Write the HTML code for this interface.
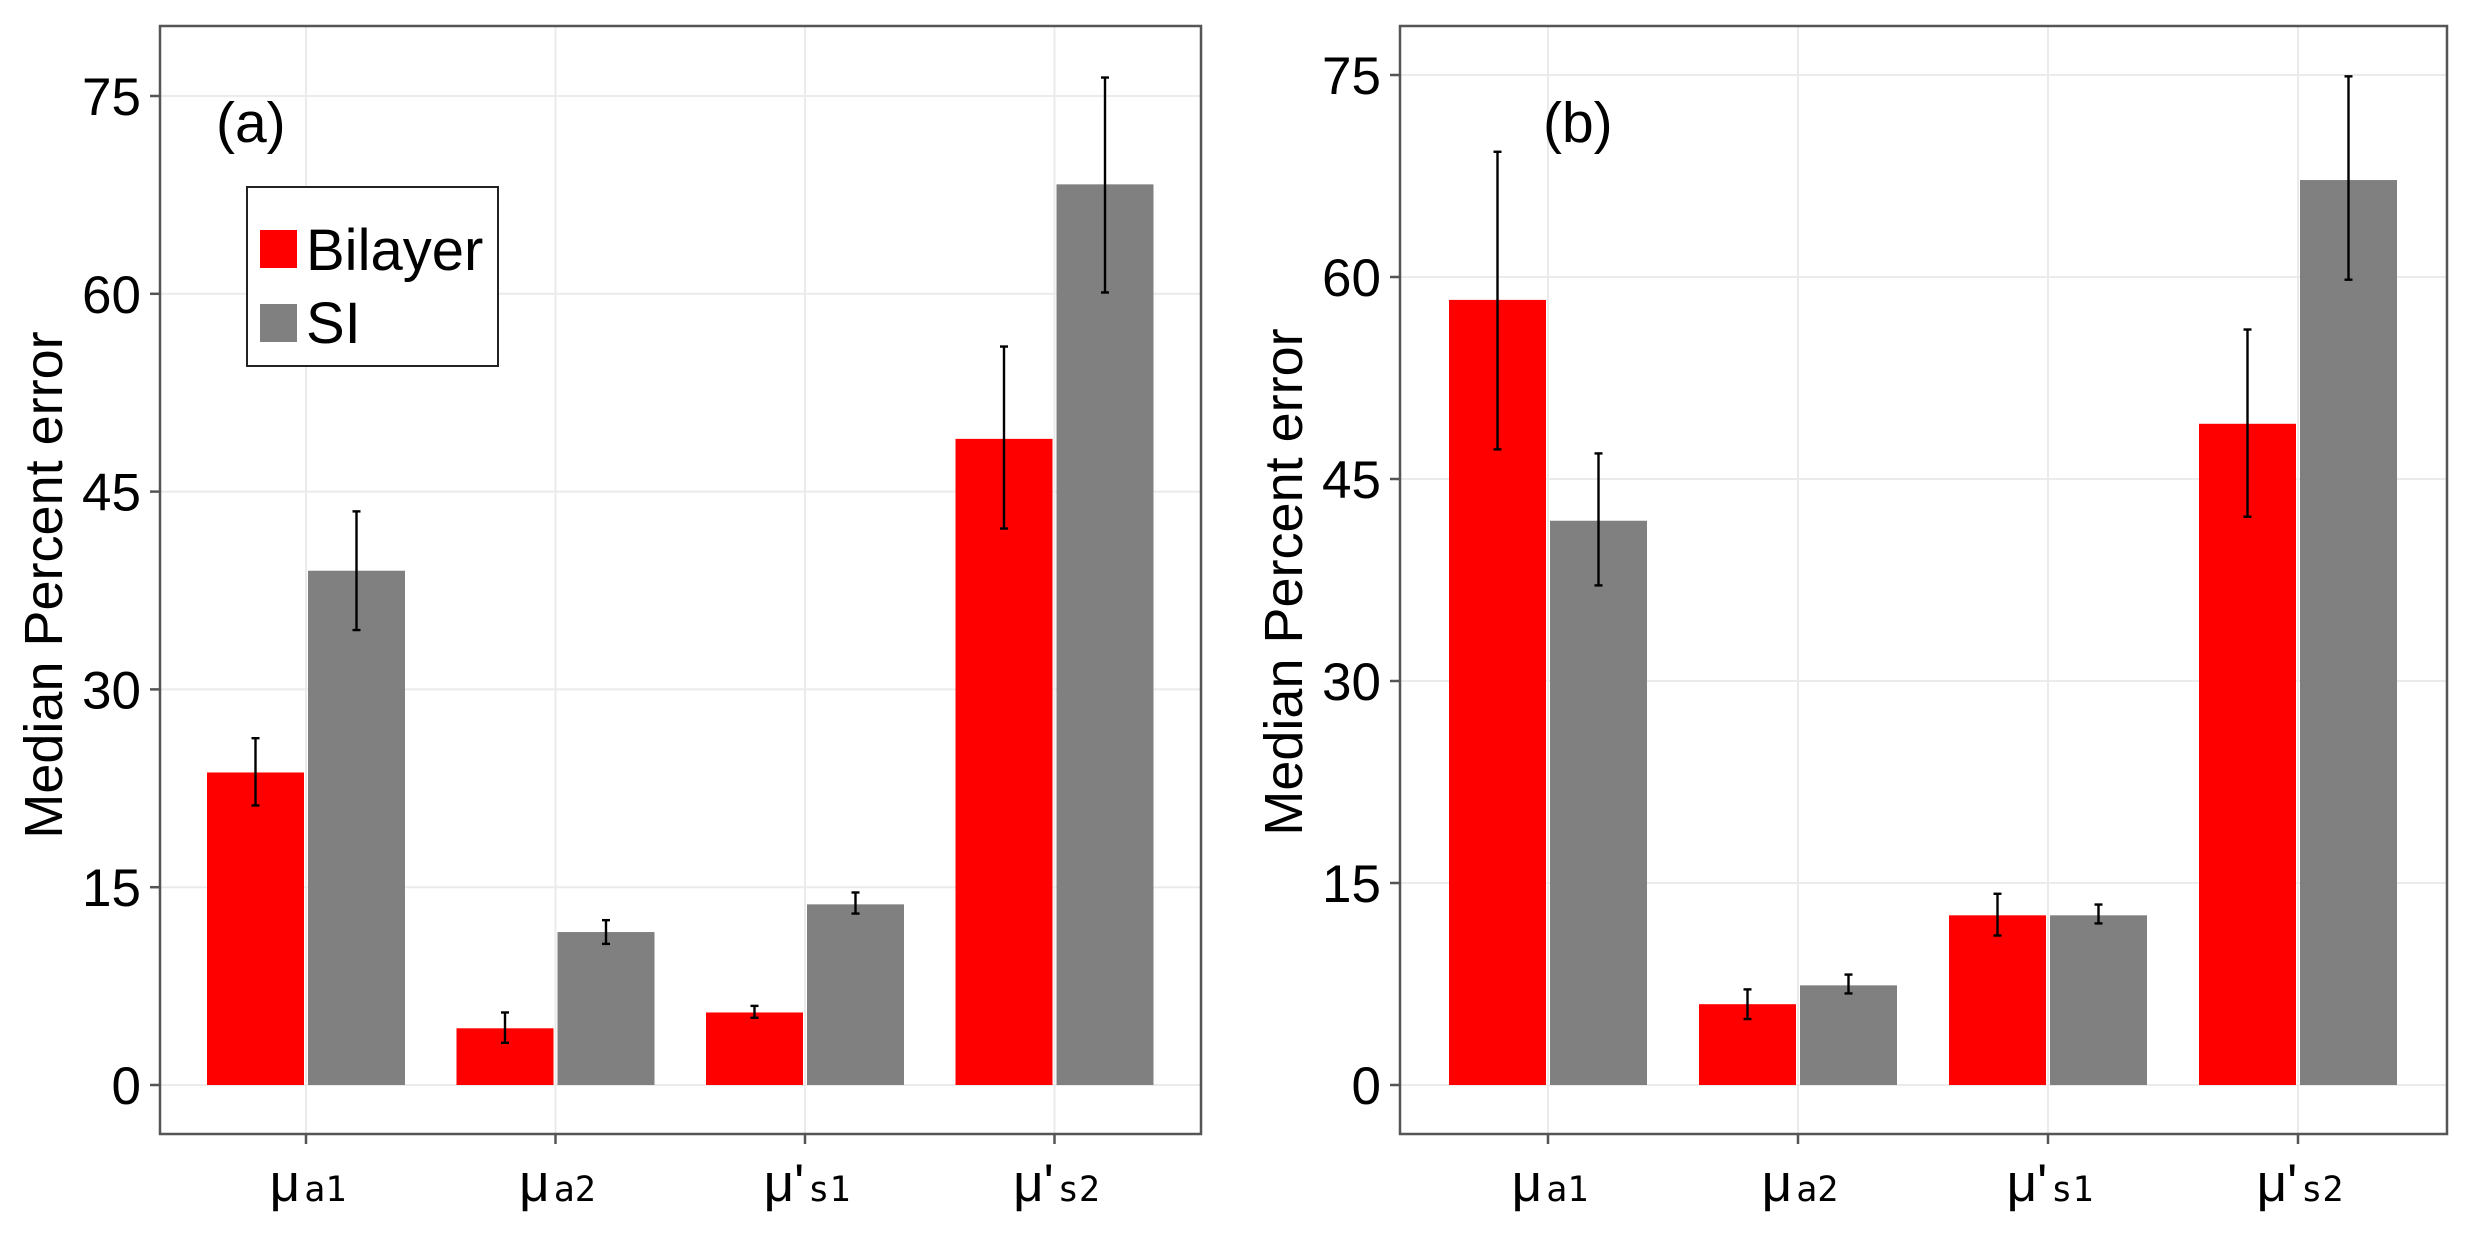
<!DOCTYPE html>
<html><head><meta charset="utf-8"><style>
html,body{margin:0;padding:0;background:#fff;}
svg{display:block;font-family:"Liberation Sans",sans-serif;}
</style></head><body>
<svg id="chart" width="2466" height="1244" viewBox="0 0 2466 1244" xmlns="http://www.w3.org/2000/svg"></svg>
<script>
const categories = ["a1","a2","s1","s2"];
const catPrime = [false,false,true,true];
const yTicks = [0,15,30,45,60,75];
const aBilayer = [23.7, 4.3, 5.5, 49.0];
const aBilayerHi = [26.3, 5.5, 6.0, 56.0];
const aBilayerLo = [21.2, 3.2, 5.1, 42.2];
const aSI = [39.0, 11.6, 13.7, 68.3];
const aSIHi = [43.5, 12.5, 14.6, 76.4];
const aSILo = [34.5, 10.7, 13.0, 60.1];
const bBilayer = [58.3, 6.0, 12.6, 49.1];
const bBilayerHi = [69.3, 7.1, 14.2, 56.1];
const bBilayerLo = [47.2, 4.9, 11.1, 42.2];
const bSI = [41.9, 7.4, 12.6, 67.2];
const bSIHi = [46.9, 8.2, 13.4, 74.9];
const bSILo = [37.1, 6.8, 12.0, 59.8];

const NS = "http://www.w3.org/2000/svg";
const svg = document.getElementById("chart");
function mk(tag, attrs, parent){
  const e = document.createElementNS(NS, tag);
  for (const k in attrs) e.setAttribute(k, attrs[k]);
  (parent||svg).appendChild(e);
  return e;
}

function panel(cfg){
  const g = mk("g", {});
  
  
  const y = v => cfg.y0 + (cfg.y75 - cfg.y0) * v / 75;
  const x = i => cfg.cat0 + i * cfg.step;
  yTicks.forEach(t => {
    const l = mk("line", {x1:cfg.left, x2:cfg.right, y1:y(t), y2:y(t), stroke:"#ebebeb", "stroke-width":2}, g);
    
    
  });
  categories.forEach((c,i) => {
    const l = mk("line", {x1:x(i), x2:x(i), y1:cfg.top, y2:cfg.bottom, stroke:"#ebebeb", "stroke-width":2}, g);
    
    
  });
  const bw = 97;
  categories.forEach((c,i) => {
    const r = mk("rect", {x:x(i)-bw-2, y:y(cfg.bil[i]), width:bw, height:y(0)-y(cfg.bil[i]), fill:"#ff0000"}, g);
    
    
    const s = mk("rect", {x:x(i)+2, y:y(cfg.si[i]), width:bw, height:y(0)-y(cfg.si[i]), fill:"#808080"}, g);
    
    
  });
  function err(cx, hi, lo, nm){
    const e = mk("g", {stroke:"#000", "stroke-width":2.4}, g);
    
    
    mk("line", {x1:cx, x2:cx, y1:y(hi), y2:y(lo)}, e);
    mk("line", {x1:cx-4, x2:cx+4, y1:y(hi), y2:y(hi)}, e);
    mk("line", {x1:cx-4, x2:cx+4, y1:y(lo), y2:y(lo)}, e);
  }
  categories.forEach((c,i) => {
    err(x(i)-bw/2-2, cfg.bilHi[i], cfg.bilLo[i], 'errorbar-bilayer-' + c);
    err(x(i)+bw/2+2, cfg.siHi[i], cfg.siLo[i], 'errorbar-si-' + c);
  });
  const b = mk("rect", {x:cfg.left, y:cfg.top, width:cfg.right-cfg.left, height:cfg.bottom-cfg.top, fill:"none", stroke:"#555", "stroke-width":2.5}, g);
  
  
  yTicks.forEach(t => {
    mk("line", {x1:cfg.left-10, x2:cfg.left, y1:y(t), y2:y(t), stroke:"#555", "stroke-width":2.5}, g);
    const tx = mk("text", {x:cfg.left-19, y:y(t)+19, "text-anchor":"end", "font-size":53, fill:"#000"}, g);
    
    
    tx.textContent = t;
  });
  categories.forEach((c,i) => {
    mk("line", {x1:x(i), x2:x(i), y1:cfg.bottom, y2:cfg.bottom+10, stroke:"#555", "stroke-width":2.5}, g);
    const tx = mk("text", {x:x(i)+2, y:1201, "text-anchor":"middle", "font-size":53, fill:"#000"}, g);
    
    
    const m = mk("tspan", {}, tx); m.textContent = catPrime[i] ? "μ'" : "μ";
    const s = mk("tspan", {"font-size":35, "font-family":"DejaVu Sans Mono, monospace", dx:4}, tx); s.textContent = c;
  });
  const at = mk("text", {x:0, y:0, transform:`translate(${cfg.titleX},${cfg.titleY}) rotate(-90)`, "text-anchor":"middle", "font-size":54, fill:"#000"}, g);
  
  
  at.textContent = "Median Percent error";
  const pl = mk("text", {x:cfg.labelX, y:142, "font-size":57, fill:"#000"}, g);
  
  
  pl.textContent = cfg.label;
}

panel({name:"panel-a", left:160, right:1201, top:26, bottom:1134, y0:1085, y75:96, cat0:306, step:249.5,
  bil:aBilayer, bilHi:aBilayerHi, bilLo:aBilayerLo, si:aSI, siHi:aSIHi, siLo:aSILo,
  titleX:62, titleY:585, labelX:216, label:"(a)"});
panel({name:"panel-b", left:1400, right:2447, top:26, bottom:1134, y0:1085, y75:75, cat0:1548, step:250,
  bil:bBilayer, bilHi:bBilayerHi, bilLo:bBilayerLo, si:bSI, siHi:bSIHi, siLo:bSILo,
  titleX:1302, titleY:582, labelX:1543, label:"(b)"});

const lg = mk("g", {});


mk("rect", {x:247, y:187, width:251, height:179, fill:"#fff", stroke:"#222", "stroke-width":2}, lg);
const sw1 = mk("rect", {x:260, y:230, width:37, height:38, fill:"#ff0000"}, lg);


const sw2 = mk("rect", {x:260, y:304, width:37, height:38, fill:"#808080"}, lg);


const t1 = mk("text", {x:306, y:270, "font-size":58, fill:"#000"}, lg);


t1.textContent = "Bilayer";
const t2 = mk("text", {x:306, y:343, "font-size":58, fill:"#000"}, lg);


t2.textContent = "SI";
</script>
</body></html>
